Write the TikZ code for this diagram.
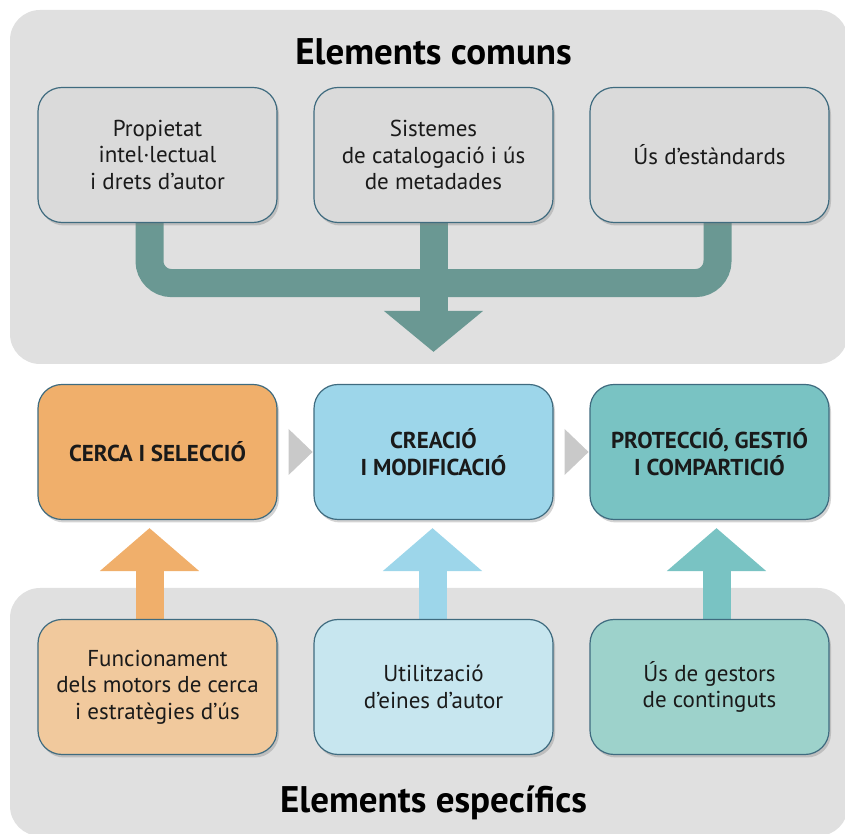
\documentclass[tikz,border=0pt]{standalone}
\usepackage{fontspec}
\setmainfont{PT Sans}
\usetikzlibrary{arrows.meta, shadows}

\definecolor{panelgray}{HTML}{E0E0E0}
\definecolor{topgray}{HTML}{DADADA}
\definecolor{boxline}{HTML}{3F6B7F}
\definecolor{flowgreen}{HTML}{6A9893}
\definecolor{chevgray}{HTML}{C9C9C9}
\definecolor{orangeM}{HTML}{F0AF6B}
\definecolor{blueM}{HTML}{9DD6EA}
\definecolor{tealM}{HTML}{79C3C3}
\definecolor{orangeB}{HTML}{F1C99D}
\definecolor{blueB}{HTML}{C7E6EF}
\definecolor{tealB}{HTML}{9DD2CB}
\definecolor{inktext}{HTML}{1A1A1A}

\pgfdeclarelayer{panels}
\pgfdeclarelayer{flows}
\pgfsetlayers{panels,flows,main}

\tikzset{
	box/.style = {draw = boxline, line width = 1.2pt, rounded corners = 24pt, minimum width = 239pt, minimum height = 135pt, align = center, text = inktext, font = \fontsize{23}{26.5}\selectfont, drop shadow = {shadow xshift = 2pt, shadow yshift = -3pt, opacity = 0.35}},
	stagebox/.style = {box, font = \fontsize{23}{27}\selectfont\bfseries},
	heading/.style = {anchor = base, text = black, font = \fontsize{37}{42}\selectfont\bfseries},
	flow/.style = {draw = #1, line width = 28pt},
	uparrow/.style = {flow = #1, -{Triangle[width = 97pt, length = 43pt]}},
}

\begin{document}
\begin{tikzpicture}[x = 1pt, y = 1pt]
					\useasboundingbox (0, 0) rectangle (845, 834);

					\node [heading] (common) at (433.5, 769) {Elements comuns};
					\node [heading] (specific) at (433.5, 21) {Elements específics};

					\node [box, fill = topgray] (P1) at (157.5, 679) {Propietat\\intel·lectual\\i drets d’autor};
					\node [box, fill = topgray] (P2) at (433.5, 679) {Sistemes\\de catalogació i ús\\de metadades};
					\node [box, fill = topgray] (P3) at (709.5, 679) {Ús d’estàndards};

					\node [stagebox, fill = orangeM] (M1) at (157.5, 382) {CERCA I SELECCIÓ};
					\node [stagebox, fill = blueM] (M2) at (433.5, 382) {CREACIÓ\\I MODIFICACIÓ};
					\node [stagebox, fill = tealM] (M3) at (709.5, 382) {PROTECCIÓ, GESTIÓ\\I COMPARTICIÓ};

					\node [box, fill = orangeB] (B1) at (157.5, 147) {Funcionament\\dels motors de cerca\\i estratègies d’ús};
					\node [box, fill = blueB] (B2) at (433.5, 147) {Utilització\\d’eines d’autor};
					\node [box, fill = tealB] (B3) at (709.5, 147) {Ús de gestors\\de continguts};

					\begin{pgfonlayer}{panels}
						\fill [panelgray, rounded corners = 30pt] (10, 470) rectangle (848, 824);
						\fill [panelgray, rounded corners = 30pt] (10, -2) rectangle (848, 246);
					\end{pgfonlayer}

					\begin{pgfonlayer}{flows}
						% common elements flow into the middle stage
						\draw [flow = flowgreen, rounded corners = 22pt] ([xshift = -8pt]P1.south) -- ++(0, -60) -| ([xshift = 8pt]P3.south);
						\draw [flow = flowgreen, -{Triangle[width = 97pt, length = 41pt]}] (P2.south) -- ([yshift = 32pt]M2.north);

						\draw [uparrow = orangeM] ([xshift = -8pt]B1.north) -- ([xshift = -8pt, yshift = -8pt]M1.south);
						\draw [uparrow = blueM] ([xshift = -1pt]B2.north) -- ([xshift = -1pt, yshift = -8pt]M2.south);
						\draw [uparrow = tealM] ([xshift = 7pt]B3.north) -- ([xshift = 7pt, yshift = -8pt]M3.south);
					\end{pgfonlayer}

					\fill [chevgray] ([xshift = 11pt, yshift = 23pt]M1.east) -- ([xshift = 35pt]M1.east) -- ([xshift = 11pt, yshift = -23pt]M1.east) -- cycle;
					\fill [chevgray] ([xshift = 11pt, yshift = 23pt]M2.east) -- ([xshift = 35pt]M2.east) -- ([xshift = 11pt, yshift = -23pt]M2.east) -- cycle;
				\end{tikzpicture}
\end{document}
